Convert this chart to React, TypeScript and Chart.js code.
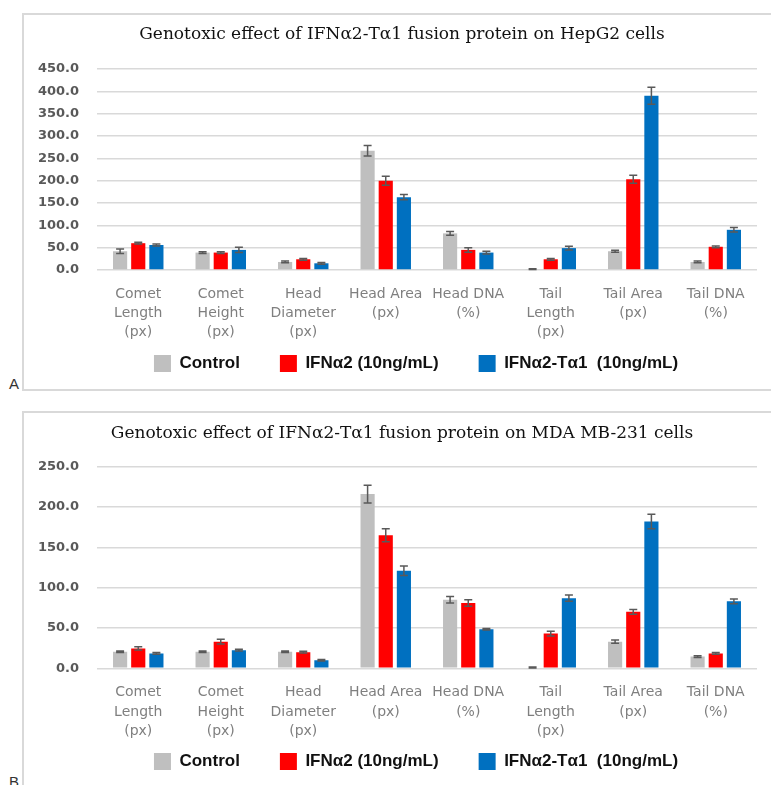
import React, { useEffect, useRef } from "react";
import { Chart, registerables } from "chart.js";

Chart.register(...registerables);

// ---------- data ----------
const categories: string[][] = [
  ["Comet", "Length", "(px)"],
  ["Comet", "Height", "(px)"],
  ["Head", "Diameter", "(px)"],
  ["Head Area", "(px)"],
  ["Head DNA", "(%)"],
  ["Tail", "Length", "(px)"],
  ["Tail Area", "(px)"],
  ["Tail DNA", "(%)"],
];

const seriesNames = ["Control", "IFNα2 (10ng/mL)", "IFNα2-Tα1  (10ng/mL)"];
const seriesColors = ["#bfbfbf", "#ff0000", "#0070c0"];

// Panel A – HepG2
const titleA = "Genotoxic effect of IFNα2-Tα1 fusion protein on HepG2 cells";
const hepControl = [42, 39, 18, 267, 82, 2, 42, 18];
const hepIFN = [60, 39, 24, 200, 45, 24, 203, 52];
const hepFusion = [56, 45, 15, 163, 39, 49, 390, 90];
const hepControlErr = [5, 2, 2, 12, 4, 1, 2, 2];
const hepIFNErr = [2, 2, 2, 10, 5, 2, 9, 2];
const hepFusionErr = [2, 6, 2, 6, 3, 4, 19, 5];
const hepYMax = 450;

// Panel B – MDA MB-231
const titleB = "Genotoxic effect of IFNα2-Tα1 fusion protein on MDA MB-231 cells";
const mdaControl = [20.5, 20.5, 20.5, 216, 85, 1, 33, 14.5];
const mdaIFN = [24.7, 33, 20, 165, 81, 43, 70, 18.5];
const mdaFusion = [18.5, 22.5, 10, 121, 48.5, 87, 182, 83];
const mdaControlErr = [1, 1, 1, 11, 4, 0.5, 2, 1];
const mdaIFNErr = [2, 3, 1, 8, 4, 3, 3, 1];
const mdaFusionErr = [1, 1, 1, 6, 1, 4, 9, 3];
const mdaYMax = 250;

const yStep = 50;

// ---------- error bar plugin ----------
const errorBarPlugin = {
  id: "errorBars",
  afterDatasetsDraw(chart: any, _args: any, opts: any) {
    const errs: number[][] = opts.errors || [];
    const ctx = chart.ctx;
    const yScale = chart.scales.y;
    ctx.save();
    ctx.strokeStyle = "#595959";
    ctx.lineWidth = 1.5;
    chart.data.datasets.forEach((ds: any, i: number) => {
      const meta = chart.getDatasetMeta(i);
      const e = errs[i] || [];
      meta.data.forEach((bar: any, j: number) => {
        const v = ds.data[j] as number;
        const err = e[j] || 0;
        if (!err) return;
        const x = bar.x;
        const yt = yScale.getPixelForValue(v + err);
        const yb = yScale.getPixelForValue(Math.max(0, v - err));
        const cap = 4;
        ctx.beginPath();
        ctx.moveTo(x, yt);
        ctx.lineTo(x, yb);
        ctx.moveTo(x - cap, yt);
        ctx.lineTo(x + cap, yt);
        ctx.moveTo(x - cap, yb);
        ctx.lineTo(x + cap, yb);
        ctx.stroke();
      });
    });
    ctx.restore();
  },
};

// lets the multi-line category labels extend below the x-axis box, and nudges the legend
const layoutTweakPlugin = {
  id: "layoutTweak",
  afterLayout(chart: any, _args: any, opts: any) {
    const x = chart.scales.x;
    if (x) x.bottom = x.top + (opts.labelRoom || 80);
    const lg = chart.legend;
    if (lg && opts.legendShift) {
      lg.left += opts.legendShift;
      lg.right += opts.legendShift;
    }
  },
};

type PanelProps = {
  top: number;
  height: number;
  title: string;
  yMax: number;
  values: number[][];
  errors: number[][];
  frameTop: number;
  titlePad: { top: number; bottom: number };
  xHeight: number;
  padBottom: number;
};

function Panel(p: PanelProps) {
  const ref = useRef<HTMLCanvasElement | null>(null);
  useEffect(() => {
    if (!ref.current) return;
    const chart = new Chart(ref.current, {
      type: "bar",
      data: {
        labels: categories,
        datasets: p.values.map((vals, i) => ({
          label: seriesNames[i],
          data: vals,
          backgroundColor: seriesColors[i],
          borderWidth: 0,
          categoryPercentage: 0.66,
          barPercentage: 0.78,
        })),
      },
      plugins: [errorBarPlugin, layoutTweakPlugin],
      options: {
        responsive: false,
        animation: false,
        devicePixelRatio: 1,
        layout: {
          padding: { left: 23, right: -10, top: p.frameTop, bottom: p.padBottom },
        },
        plugins: {
          title: {
            display: true,
            text: p.title,
            color: "#111111",
            font: { family: "DejaVu Serif", size: 17, weight: "normal", lineHeight: 1.2 },
            padding: p.titlePad,
          },
          legend: {
            position: "bottom",
            fullSize: false,
            maxHeight: 60,
            labels: {
              boxWidth: 17,
              boxHeight: 17,
              padding: 40,
              color: "#111111",
              font: { family: "Liberation Sans", size: 17, weight: "bold" },
            },
          },
          tooltip: { enabled: false },
          errorBars: { errors: p.errors },
          layoutTweak: { labelRoom: 80, legendShift: -11 },
        } as any,
        scales: {
          x: {
            grid: { display: false },
            border: { display: false },
            ticks: {
              color: "#7f7f7f",
              font: { family: "DejaVu Sans", size: 14, lineHeight: 1.36 },
              padding: 7,
              maxRotation: 0,
              minRotation: 0,
              autoSkip: false,
            },
            afterFit: (s: any) => {
              s.height = p.xHeight;
            },
          },
          y: {
            min: 0,
            max: p.yMax,
            ticks: {
              stepSize: yStep,
              color: "#595959",
              font: { family: "DejaVu Sans", size: 13, weight: "bold" },
              padding: 18,
              callback: (v: any) => Number(v).toFixed(1),
            },
            grid: { color: "#d9d9d9", lineWidth: 1.5, drawTicks: false },
            border: { display: false },
            afterFit: (s: any) => {
              s.width = 74;
            },
          },
          y2: {
            position: "right",
            display: true,
            grid: { display: false },
            ticks: { display: false },
            border: { display: false },
            afterFit: (s: any) => {
              s.width = 24;
            },
          },
        },
      } as any,
    });
    return () => chart.destroy();
  }, []);
  return (
    <canvas
      ref={ref}
      width={771}
      height={p.height}
      style={{ position: "absolute", left: 0, top: p.top, width: 771, height: p.height }}
    />
  );
}

export default function App() {
  const frame = "2px solid #d9d9d9";
  return (
    <div
      style={{
        position: "absolute",
        left: 0,
        top: 0,
        width: 771,
        height: 785,
        overflow: "hidden",
        background: "#ffffff",
      }}
    >
      <div
        style={{
          position: "absolute",
          left: 22,
          top: 13,
          width: 800,
          height: 374,
          borderLeft: frame,
          borderTop: frame,
          borderBottom: frame,
        }}
      />
      <div
        style={{
          position: "absolute",
          left: 22,
          top: 411,
          width: 800,
          height: 400,
          borderLeft: frame,
          borderTop: frame,
        }}
      />
      <div
        style={{
          position: "absolute",
          left: 9,
          top: 375,
          fontFamily: "Liberation Sans",
          fontSize: 15,
          color: "#333",
        }}
      >
        A
      </div>
      <div
        style={{
          position: "absolute",
          left: 9,
          top: 773,
          fontFamily: "Liberation Sans",
          fontSize: 15,
          color: "#333",
        }}
      >
        B
      </div>
      <Panel
        top={0}
        height={390}
        title={titleA}
        yMax={hepYMax}
        values={[hepControl, hepIFN, hepFusion]}
        errors={[hepControlErr, hepIFNErr, hepFusionErr]}
        frameTop={14}
        titlePad={{ top: 10.8, bottom: 23.8 }}
        xHeight={45}
        padBottom={15}
      />
      <Panel
        top={390}
        height={395}
        title={titleB}
        yMax={mdaYMax}
        values={[mdaControl, mdaIFN, mdaFusion]}
        errors={[mdaControlErr, mdaIFNErr, mdaFusionErr]}
        frameTop={22}
        titlePad={{ top: 11.8, bottom: 22.5 }}
        xHeight={44.7}
        padBottom={12}
      />
    </div>
  );
}
